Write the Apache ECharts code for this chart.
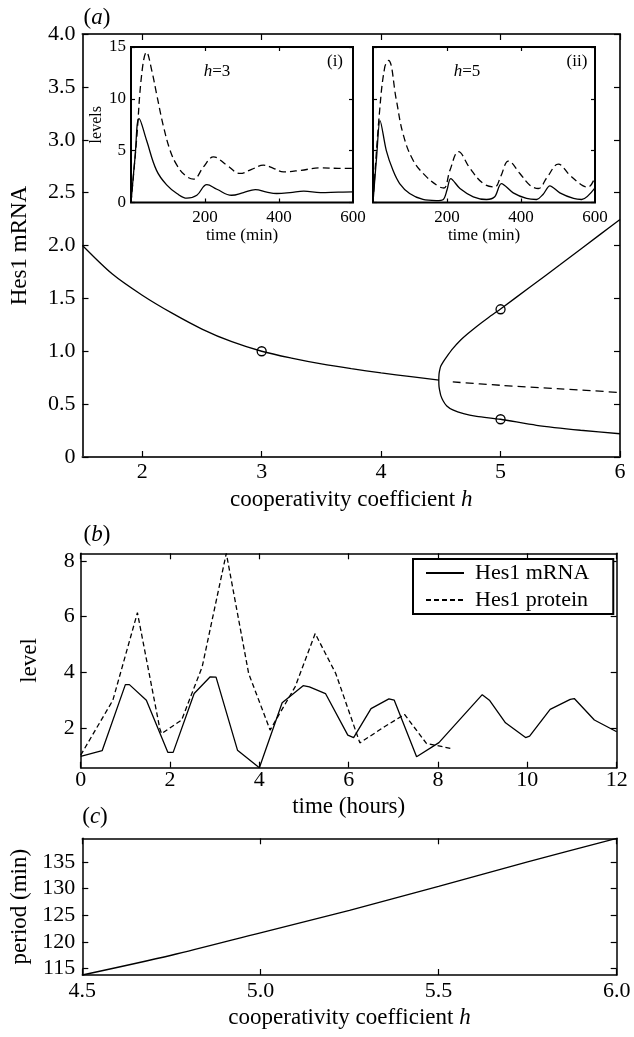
<!DOCTYPE html>
<html>
<head>
<meta charset="utf-8">
<title>Hes1 oscillations</title>
<script src="https://cdn.jsdelivr.net/npm/echarts@6/dist/echarts.min.js"></script>
<style>
  html, body { margin: 0; padding: 0; background: #fff; }
  #chart { width: 634px; height: 1037px; }
</style>
</head>
<body>
<div id="chart"></div>
<script>
// (a) steady state of Hes1 mRNA against the cooperativity coefficient h
const hStable = [1.5, 1.75, 2, 2.25, 2.5, 2.75, 3, 3.25, 3.5, 3.75, 4, 4.25, 4.485]
const mStable = [2.0, 1.73, 1.53, 1.36, 1.21, 1.09, 1.0, 0.935, 0.88, 0.835, 0.795, 0.76, 0.726]
const hUnstable = [4.6, 5, 5.5, 6]
const mUnstable = [0.71, 0.678, 0.645, 0.61]
// limit cycle: max branch (right to left), nose, then min branch
const hCycle = [6, 5.84, 5.5, 5.25, 5, 4.9, 4.8, 4.73, 4.66, 4.6, 4.55, 4.52, 4.5, 4.49, 4.485, 4.483,
  4.485, 4.49, 4.5, 4.52, 4.55, 4.6, 4.69, 4.8, 5, 5.3, 5.67, 6]
const mCycle = [2.245, 2.11, 1.82, 1.61, 1.4, 1.32, 1.235, 1.17, 1.1, 1.025, 0.95, 0.9, 0.86, 0.82, 0.785, 0.726,
  0.665, 0.63, 0.58, 0.53, 0.482, 0.445, 0.41, 0.385, 0.357, 0.3, 0.253, 0.22]
const hMarks = [3, 5, 5]
const mMarks = [1.0, 1.397, 0.357]

// insets: time courses for h = 3 and h = 5
const tH3 = [0, 11, 22, 42, 69, 97, 124, 151, 178, 205, 232, 272, 304, 336, 367, 394, 430, 467, 512, 560, 600]
const mrnaH3 = [0, 4.4, 8.1, 6.0, 3.1, 1.67, 0.87, 0.42, 0.7, 1.73, 1.28, 0.7, 0.96, 1.25, 1.0, 0.87, 0.95, 1.09, 0.96, 1.0, 1.02]
const tP3 = [0, 15, 29, 42, 56, 69, 88, 106, 124, 146, 169, 196, 223, 259, 295, 326, 358, 385, 412, 458, 512, 560, 600]
const protH3 = [0, 6.0, 12.4, 14.5, 12.75, 10.5, 7.3, 5.0, 3.6, 2.63, 2.25, 3.44, 4.4, 3.6, 2.8, 3.2, 3.6, 3.3, 2.96, 3.1, 3.34, 3.3, 3.3]
const tH5 = [0, 10, 19, 36, 54, 72, 99, 135, 171, 190, 200, 210, 235, 271, 307, 329, 347, 379, 415, 442, 460, 478, 505, 542, 564, 600]
const mrnaH5 = [0, 4.5, 7.9, 5.0, 3.1, 1.83, 0.87, 0.29, 0.19, 0.3, 1.2, 2.3, 1.35, 0.55, 0.29, 0.55, 1.83, 0.93, 0.39, 0.29, 0.8, 1.6, 0.93, 0.39, 0.29, 1.41]
const tP5 = [0, 18, 32, 42, 63, 81, 108, 144, 180, 192, 208, 231, 262, 298, 329, 345, 366, 397, 424, 447, 470, 501, 532, 568, 582, 600]
const protH5 = [0, 8.9, 13.1, 13.7, 9.9, 6.65, 4.1, 2.5, 1.5, 1.4, 3.1, 4.9, 3.3, 1.83, 1.5, 2.5, 4.0, 2.8, 1.67, 1.35, 2.4, 3.7, 2.63, 1.6, 1.5, 2.47]

// (b) measured levels against time (hours)
const tMrna = [0, 0.48, 1.0, 1.09, 1.47, 1.95, 2.07, 2.54, 2.9, 3.03, 3.51, 4.0, 4.51, 4.98, 5.12, 5.48, 5.98, 6.11, 6.5, 6.9, 7.02, 7.52, 8.02, 8.51, 8.99, 9.15, 9.51, 9.96, 10.05, 10.51, 10.96, 11.05, 11.5, 12]
const mrnaB = [0.99, 1.19, 3.56, 3.56, 3.0, 1.13, 1.13, 3.24, 3.84, 3.83, 1.21, 0.58, 2.91, 3.52, 3.48, 3.24, 1.75, 1.66, 2.7, 3.05, 3.0, 0.97, 1.48, 2.35, 3.2, 3.0, 2.19, 1.66, 1.71, 2.67, 3.03, 3.06, 2.29, 1.87]
const tProt = [0, 0.72, 1.27, 1.77, 1.81, 2.26, 2.72, 3.26, 3.76, 4.24, 4.8, 5.25, 5.71, 6.25, 6.8, 7.25, 7.74, 8.29]
const protB = [1.03, 3.0, 6.14, 1.99, 1.8, 2.29, 4.2, 8.27, 3.96, 1.93, 3.48, 5.39, 3.96, 1.47, 2.05, 2.49, 1.45, 1.27]

// (c) oscillation period against h
const hPeriod = [4.5, 4.75, 5.0, 5.25, 5.5, 5.75, 6.0]
const period = [113.8, 117.5, 121.7, 125.9, 130.4, 135.0, 139.4]

const font = 'Liberation Serif'
const ink = '#000'

const zip = (xs, ys) => xs.map((x, i) => [x, ys[i]])

function axis(o) {
  const nameSize = o.nameSize || 23
  return {
    type: 'value',
    gridIndex: o.grid,
    position: o.pos,
    min: o.min,
    max: o.max,
    interval: o.interval,
    name: o.name || '',
    nameLocation: 'middle',
    nameGap: o.nameGap || 0,
    nameRotate: o.pos === 'left' ? 90 : 0,
    nameTextStyle: {
      fontFamily: font,
      fontSize: nameSize,
      color: ink,
      rich: { i: { fontFamily: font, fontSize: nameSize, fontStyle: 'italic', color: ink } }
    },
    axisLine: { show: o.line !== false, onZero: false, lineStyle: { color: o.lineColor || ink, width: o.lineWidth || 1.5 } },
    axisTick: { show: true, inside: true, length: o.tickLength || 6, customValues: o.ticks, lineStyle: { color: ink, width: 1.2 } },
    axisLabel: {
      show: !!o.labels,
      customValues: Array.isArray(o.labels) ? o.labels : undefined,
      formatter: o.format,
      margin: o.margin || 6,
      fontFamily: font,
      fontSize: o.labelSize || 22,
      color: ink,
      showMinLabel: true,
      showMaxLabel: true
    },
    splitLine: { show: false }
  }
}

function line(name, idx, data, dash, smooth) {
  return {
    type: 'line',
    name: name,
    xAxisIndex: idx,
    yAxisIndex: idx,
    data: data,
    symbol: 'none',
    smooth: smooth || false,
    silent: true,
    itemStyle: { color: ink },
    lineStyle: { color: ink, width: 1.3, type: dash || 'solid' }
  }
}

const hMain = [2, 3, 4, 5, 6]
const insetTicks = [200, 400]
const insetLabels = [200, 400, 600]

const chart = echarts.init(document.getElementById('chart'), null, { renderer: 'canvas' })
chart.setOption({
  animation: false,
  backgroundColor: '#fff',
  textStyle: { fontFamily: font },
  grid: [
    { left: 82.5, top: 34, width: 537.5, height: 423 },
    { left: 131, top: 47, width: 222, height: 155.5, show: true, backgroundColor: '#fff', borderColor: ink, borderWidth: 2 },
    { left: 373, top: 47, width: 222, height: 155.5, show: true, backgroundColor: '#fff', borderColor: ink, borderWidth: 2 },
    { left: 80.7, top: 553.3, width: 536, height: 214.4 },
    { left: 82.3, top: 838.3, width: 534.4, height: 136.7 }
  ],
  xAxis: [
    axis({ grid: 0, pos: 'bottom', min: 1.5, max: 6, ticks: hMain, labels: hMain, margin: 4, lineColor: '#333', lineWidth: 2,
      name: 'cooperativity coefficient {i|h}', nameGap: 31 }),
    axis({ grid: 0, pos: 'top', min: 1.5, max: 6, ticks: hMain, lineColor: '#333', lineWidth: 2 }),
    axis({ grid: 1, pos: 'bottom', min: 0, max: 600, ticks: insetTicks, labels: insetLabels, line: false, tickLength: 4,
      labelSize: 17, margin: 7, name: 'time (min)', nameSize: 17, nameGap: 21 }),
    axis({ grid: 1, pos: 'top', min: 0, max: 600, ticks: insetTicks, line: false, tickLength: 4 }),
    axis({ grid: 2, pos: 'bottom', min: 0, max: 600, ticks: insetTicks, labels: insetLabels, line: false, tickLength: 4,
      labelSize: 17, margin: 7, name: 'time (min)', nameSize: 17, nameGap: 21 }),
    axis({ grid: 2, pos: 'top', min: 0, max: 600, ticks: insetTicks, line: false, tickLength: 4 }),
    axis({ grid: 3, pos: 'bottom', min: 0, max: 12, interval: 2, labels: true, margin: 2, name: 'time (hours)', nameGap: 28 }),
    axis({ grid: 3, pos: 'top', min: 0, max: 12, interval: 2 }),
    axis({ grid: 4, pos: 'bottom', min: 4.5, max: 6, interval: 0.5, labels: true, margin: 5,
      format: v => v.toFixed(1), name: 'cooperativity coefficient {i|h}', nameGap: 31 }),
    axis({ grid: 4, pos: 'top', min: 4.5, max: 6, interval: 0.5 })
  ],
  yAxis: [
    axis({ grid: 0, pos: 'left', min: 0, max: 4, interval: 0.5, labels: true, margin: 7, lineColor: '#333', lineWidth: 2,
      format: v => (v === 0 ? '0' : v.toFixed(1)), name: 'Hes1 mRNA', nameGap: 51 }),
    axis({ grid: 0, pos: 'right', min: 0, max: 4, interval: 0.5, lineColor: '#333', lineWidth: 2 }),
    axis({ grid: 1, pos: 'left', min: 0, max: 15, interval: 5, labels: true, line: false, tickLength: 4,
      labelSize: 17, margin: 5, name: 'levels', nameSize: 16, nameGap: 18 }),
    axis({ grid: 1, pos: 'right', min: 0, max: 15, interval: 5, line: false, tickLength: 4 }),
    axis({ grid: 2, pos: 'left', min: 0, max: 15, interval: 5, line: false, tickLength: 4 }),
    axis({ grid: 2, pos: 'right', min: 0, max: 15, interval: 5, line: false, tickLength: 4 }),
    axis({ grid: 3, pos: 'left', min: 0.58, max: 8.27, ticks: [2, 4, 6, 8], labels: [2, 4, 6, 8], margin: 6,
      name: 'level', nameGap: 39 }),
    axis({ grid: 3, pos: 'right', min: 0.58, max: 8.27, ticks: [2, 4, 6, 8] }),
    axis({ grid: 4, pos: 'left', min: 113.8, max: 139.4, ticks: [115, 120, 125, 130, 135], labels: [115, 120, 125, 130, 135],
      margin: 7, name: 'period (min)', nameGap: 49 }),
    axis({ grid: 4, pos: 'right', min: 113.8, max: 139.4, ticks: [115, 120, 125, 130, 135] })
  ],
  legend: {
    data: ['Hes1 mRNA', 'Hes1 protein'],
    orient: 'vertical',
    left: 413,
    top: 559,
    padding: [3, 24, 3, 12],
    itemWidth: 38,
    itemHeight: 14,
    itemGap: 5,
    borderColor: ink,
    borderWidth: 2,
    backgroundColor: '#fff',
    selectedMode: false,
    itemStyle: { opacity: 0 },
    textStyle: { fontFamily: font, fontSize: 22, color: ink, lineHeight: 22, padding: [0, 0, 0, 6] }
  },
  graphic: [
    { type: 'text', z: 100, x: 97, y: 18, style: { text: '({i|a})', font: '23px "Liberation Serif"', fill: ink, align: 'center', verticalAlign: 'middle',
      rich: { i: { fontFamily: font, fontSize: 23, fontStyle: 'italic' } } } },
    { type: 'text', z: 100, x: 97, y: 535, style: { text: '({i|b})', font: '23px "Liberation Serif"', fill: ink, align: 'center', verticalAlign: 'middle',
      rich: { i: { fontFamily: font, fontSize: 23, fontStyle: 'italic' } } } },
    { type: 'text', z: 100, x: 95, y: 817, style: { text: '({i|c})', font: '23px "Liberation Serif"', fill: ink, align: 'center', verticalAlign: 'middle',
      rich: { i: { fontFamily: font, fontSize: 23, fontStyle: 'italic' } } } },
    { type: 'text', z: 100, x: 217, y: 72, style: { text: '{i|h}=3', font: '17px "Liberation Serif"', fill: ink, align: 'center', verticalAlign: 'middle',
      rich: { i: { fontFamily: font, fontSize: 17, fontStyle: 'italic' } } } },
    { type: 'text', z: 100, x: 335, y: 62, style: { text: '(i)', font: '17px "Liberation Serif"', fill: ink, align: 'center', verticalAlign: 'middle' } },
    { type: 'text', z: 100, x: 467, y: 72, style: { text: '{i|h}=5', font: '17px "Liberation Serif"', fill: ink, align: 'center', verticalAlign: 'middle',
      rich: { i: { fontFamily: font, fontSize: 17, fontStyle: 'italic' } } } },
    { type: 'text', z: 100, x: 577, y: 62, style: { text: '(ii)', font: '17px "Liberation Serif"', fill: ink, align: 'center', verticalAlign: 'middle' } }
  ],
  series: [
    line('stable', 0, zip(hStable, mStable), 'solid', 0.3),
    line('unstable', 0, zip(hUnstable, mUnstable), [8, 5], 0.3),
    line('cycle', 0, zip(hCycle, mCycle), 'solid', 0.25),
    {
      type: 'scatter',
      name: 'marks',
      xAxisIndex: 0,
      yAxisIndex: 0,
      data: zip(hMarks, mMarks),
      symbol: 'circle',
      symbolSize: 9,
      silent: true,
      z: 5,
      itemStyle: { color: 'rgba(255,255,255,0)', borderColor: ink, borderWidth: 1.3, opacity: 1 }
    },
    line('mRNA h3', 2, zip(tH3, mrnaH3), 'solid', 0.4),
    line('protein h3', 2, zip(tP3, protH3), [7, 4], 0.4),
    line('mRNA h5', 4, zip(tH5, mrnaH5), 'solid', 0.3),
    line('protein h5', 4, zip(tP5, protH5), [7, 4], 0.4),
    line('Hes1 mRNA', 6, zip(tMrna, mrnaB), 'solid'),
    line('Hes1 protein', 6, zip(tProt, protB), [5, 3]),
    line('period', 8, zip(hPeriod, period), 'solid', 0.3)
  ]
})
</script>
</body>
</html>
